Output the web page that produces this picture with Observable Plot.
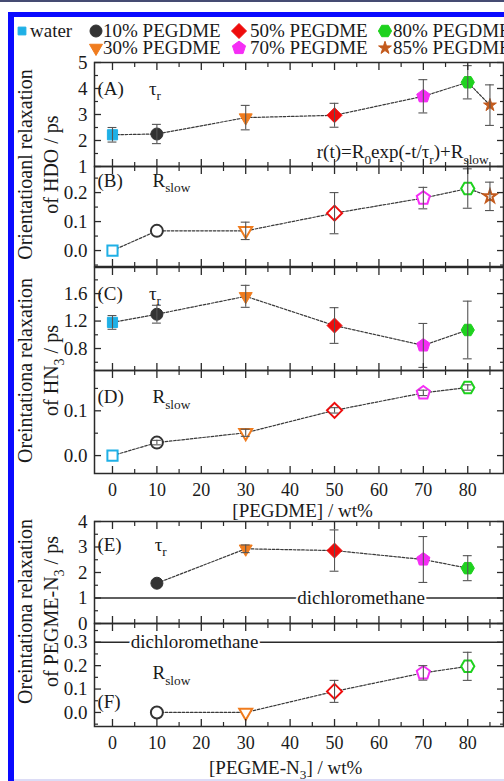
<!DOCTYPE html>
<html><head><meta charset="utf-8">
<script src="https://cdn.jsdelivr.net/npm/d3@7"></script>
<script src="https://cdn.jsdelivr.net/npm/@observablehq/plot@0.6"></script>
<style>
html,body{margin:0;padding:0;background:#fff;}
#root{position:relative;width:504px;height:781px;overflow:hidden;font-family:"Liberation Serif","DejaVu Serif",serif;color:#1a1a1a;}
.abs{position:absolute;}
.leg{position:absolute;font-size:19px;line-height:16px;height:16px;white-space:nowrap;}
</style></head><body><div id="root"></div>
<script>
// ---------------- data ----------------
const NAMES = ["water","10% PEGDME","30% PEGDME","50% PEGDME","70% PEGDME","80% PEGDME","85% PEGDME"];
const COLORS = ["#1fb0e6","#333333","#f07c1e","#ee0c0c","#f52df5","#1ed21e","#c45a1c"];
const CONC = [0,10,30,50,70,80,85];

// HDO  (A: tau_r, B: R_slow) — series 0..6
const hdoTau      = [2.22, 2.25, 2.88, 2.97, 3.70, 4.24, 3.36];
const hdoTauErr   = [0.28, 0.37, 0.47, 0.46, 0.64, 0.64, 0.78];
const hdoRslow    = [0.000, 0.068, 0.068, 0.129, 0.181, 0.214, 0.187];
const hdoRslowErr = [0, 0, 0.030, 0.071, 0.037, 0.068, 0.049];
// HN3  (C: tau_r, D: R_slow) — series 0..5
const hn3Tau      = [1.18, 1.30, 1.56, 1.135, 0.845, 1.07];
const hn3TauErr   = [0.10, 0.13, 0.16, 0.26, 0.32, 0.42];
const hn3Rslow    = [0.000, 0.029, 0.051, 0.101, 0.140, 0.152];
const hn3RslowErr = [0, 0.005, 0.008, 0.006, 0.006, 0.006];
// PEGME-N3 (E: tau_r, F: R_slow) — series 1..5
const pegTau      = [1.58, 2.93, 2.86, 2.51, 2.17];
const pegTauErr   = [0, 0.15, 0.81, 0.90, 0.49];
const pegRslow    = [0.000, 0.000, 0.090, 0.169, 0.197];
const pegRslowErr = [0, 0, 0.047, 0.031, 0.060];
// dichloromethane reference levels
const dcmTau = 1.0, dcmRslow = 0.3;

const X_TICKS = [0,10,20,30,40,50,60,70,80];
const X_MINOR = [5,15,25,35,45,55,65,75,85];

// ---------------- symbols ----------------
function poly(n, rot, k){ return {draw(c, s){ const R = Math.sqrt(s/Math.PI)*k;
  for(let i=0;i<n;i++){ const a = rot + 2*Math.PI*i/n; const x = R*Math.cos(a), y = R*Math.sin(a); if(i) c.lineTo(x,y); else c.moveTo(x,y);} c.closePath(); }}; }
const circleSym = {draw(c, s){ const r = Math.sqrt(s/Math.PI); c.moveTo(r,0); c.arc(0,0,r,0,2*Math.PI); }};
const starSym = {draw(c, s){ d3.symbolStar.draw(c, s*0.45); }};
const SYMS = [poly(4, Math.PI/4, 1.2), circleSym, poly(3, Math.PI/2, 1.25), poly(4, -Math.PI/2, 1.25),
              poly(5, -Math.PI/2, 1.15), poly(6, 0, 1.1), starSym];

// ---------------- helpers ----------------
const root = document.getElementById("root");
const INK = "#1a1a1a", FRAME = "#2a2a2a";
const XDOM = [-4.05, 88.05];
const FONT = '"Liberation Serif","DejaVu Serif",serif';

function addSpan(el, txt, dy, small){
  const sp = document.createElementNS("http://www.w3.org/2000/svg","tspan");
  if (dy) sp.setAttribute("dy", dy);
  if (small) sp.setAttribute("font-size","70%");
  sp.textContent = txt; el.appendChild(sp);
}
function subify(svg){
  svg.querySelectorAll("text").forEach(t => {
    const s = t.textContent;
    if (!s.includes("_{")) return;
    t.textContent = "";
    const re = /_\{([^}]*)\}/g; let last = 0, m, down = false;
    while ((m = re.exec(s))) {
      if (m.index > last) { addSpan(t, s.slice(last, m.index), down ? "-0.28em" : null, false); down = false; }
      addSpan(t, m[1], down ? null : "0.4em", true); down = true;
      last = re.lastIndex;
    }
    if (last < s.length) addSpan(t, s.slice(last), down ? "-0.28em" : null, false);
  });
}

function panel(cfg){
  const {top, h, yDomain, yTicks, yMinor, fmt, xs, ys, errs, idx, hollow, mb = 20, xLabels = false, extra = []} = cfg;
  const mt = 20;
  const inDom = v => v >= Math.min(...yDomain) - 1e-9 && v <= Math.max(...yDomain) + 1e-9;
  const pts = xs.map((x,i) => ({x, y: ys[i], e: errs[i], s: idx[i]}));
  const eb = pts.filter(p => p.e > 0);
  const marks = [
    Plot.lineY(pts, {x:"x", y:"y", stroke:"#3a3a3a", strokeWidth:1.2, strokeDasharray:"2.6,1.6"}),
    ...pts.map(p => Plot.dot([p], {x:"x", y:"y", r:6, symbol: SYMS[p.s],
        fill: hollow ? "white" : COLORS[p.s], stroke: COLORS[p.s], strokeWidth: hollow ? 2 : 1})),
    Plot.ruleX(eb, {x:"x", y1: p => p.y - p.e, y2: p => p.y + p.e, stroke:"#555", strokeWidth:1.1}),
    Plot.ruleY(eb, {y: p => p.y + p.e, x1: p => p.x - 1, x2: p => p.x + 1, stroke:"#555", strokeWidth:1.1}),
    Plot.ruleY(eb, {y: p => p.y - p.e, x1: p => p.x - 1, x2: p => p.x + 1, stroke:"#555", strokeWidth:1.1}),
    ...extra,
    Plot.frame({stroke: FRAME, strokeWidth: 1.5}),
    Plot.axisY(yTicks.filter(inDom), {anchor:"left", tickSize:0, tickPadding:7, tickFormat: fmt, label:null, fill: INK, fontSize: 19}),
    Plot.axisY(yTicks.filter(inDom), {anchor:"left", tickSize:-7, fill:"none", label:null, stroke: FRAME, strokeWidth:1.3}),
    Plot.axisY(yMinor.filter(inDom), {anchor:"left", tickSize:-4, fill:"none", label:null, stroke: FRAME, strokeWidth:1.2}),
    Plot.axisY(yTicks.filter(inDom), {anchor:"right", tickSize:-7, fill:"none", label:null, stroke: FRAME, strokeWidth:1.3}),
    Plot.axisY(yMinor.filter(inDom), {anchor:"right", tickSize:-4, fill:"none", label:null, stroke: FRAME, strokeWidth:1.2}),
    Plot.axisX(X_TICKS, {anchor:"bottom", tickSize:-7, fill:"none", label:null, stroke: FRAME, strokeWidth:1.3}),
    Plot.axisX(X_MINOR, {anchor:"bottom", tickSize:-4, fill:"none", label:null, stroke: FRAME, strokeWidth:1.2}),
    Plot.axisX(X_TICKS, {anchor:"top", tickSize:-7, fill:"none", label:null, stroke: FRAME, strokeWidth:1.3}),
    Plot.axisX(X_MINOR, {anchor:"top", tickSize:-4, fill:"none", label:null, stroke: FRAME, strokeWidth:1.2})
  ];
  if (xLabels) marks.push(Plot.axisX(X_TICKS, {anchor:"bottom", tickSize:0, tickPadding:10, label:null, fill: INK, fontSize: 18}));
  const svg = Plot.plot({
    width: 504, height: h + mt + mb,
    marginLeft: 94, marginRight: 1, marginTop: mt, marginBottom: mb,
    x: {domain: XDOM}, y: {domain: yDomain},
    style: {background:"transparent", overflow:"visible", fontFamily: FONT, fontSize:"18px", color: INK},
    marks
  });
  svg.style.position = "absolute"; svg.style.left = "0px"; svg.style.top = (top - mt) + "px";
  subify(svg);
  root.appendChild(svg);
  return svg;
}
const T = (x, y, text, o = {}) => Plot.text([{x, y}], {x:"x", y:"y", text: () => text, fontSize: 19, fill: INK, textAnchor:"start", lineAnchor:"middle", ...o});
const yTitle = (text, dx, dy) => Plot.text([text], {frameAnchor:"bottom-left", text: d => d, rotate:-90, dx, dy, fontSize:20, fill: INK, textAnchor:"middle", lineAnchor:"middle"});
const xTitle = (x, text, dy) => Plot.text([{x}], {x:"x", frameAnchor:"bottom", text: () => text, dy, fontSize:19, fill: INK, textAnchor:"middle", lineAnchor:"middle"});

// ---------------- frame decoration ----------------
root.insertAdjacentHTML("beforeend",
  '<div class="abs" style="left:0;top:0;width:504px;height:2px;background:#454b72"></div>' +
  '<div class="abs" style="left:8px;top:12px;width:520px;height:800px;border-left:6px solid #0a0aff;border-top:5px solid #0a0aff;box-sizing:border-box"></div>' +
  '<div class="abs" style="left:14px;top:779px;width:500px;height:2px;background:#dcdcf6"></div>');

// ---------------- legend ----------------
const LEG_SYM_X = [22, 96, 239, 385], LEG_TXT_X = [30, 103, 250, 393], LEG_ROW_Y = [31, 48];
NAMES.forEach((name, i) => {
  const col = Math.ceil(i/2), row = i === 0 ? 0 : (i-1) % 2;
  const cx = LEG_SYM_X[col], cy = LEG_ROW_Y[row];
  const rr = i === 0 ? 4.6 : 6;
  const path = d3.symbol(SYMS[i], rr*rr*Math.PI)();
  root.insertAdjacentHTML("beforeend",
    `<svg class="abs" width="20" height="20" style="left:${cx-10}px;top:${cy-10}px;overflow:visible"><path transform="translate(10,10)" d="${path}" fill="${COLORS[i]}" stroke="${COLORS[i]}"/></svg>` +
    `<div class="leg" style="left:${LEG_TXT_X[col]}px;top:${cy-8}px">${name}</div>`);
});

// ---------------- panels ----------------
const fmt1 = d3.format(".1f"), fmtInt = d3.format("d");
// A
panel({top:62, h:104, yDomain:[1,5], yTicks:[1,2,3,4,5], yMinor:[1.5,2.5,3.5,4.5], fmt: fmtInt,
  xs: CONC, ys: hdoTau, errs: hdoTauErr, idx:[0,1,2,3,4,5,6], hollow:false,
  extra:[ T(-3.4, 4.0, "(A)"), T(8.2, 4.0, "τ_{r}"),
          T(84.7, 1.55, "r(t)=R_{0}exp(-t/τ_{r})+R_{slow}", {textAnchor:"end"}),
          yTitle("Orientatioanl relaxation", -69, -2), yTitle("of HDO / ps", -43, -2) ]});
// B
panel({top:166, h:100, yDomain:[-0.055,0.29], yTicks:[0,0.1,0.2], yMinor:[-0.05,0.05,0.15,0.25], fmt: fmt1,
  xs: CONC, ys: hdoRslow, errs: hdoRslowErr, idx:[0,1,2,3,4,5,6], hollow:true,
  extra:[ T(-3.4, 0.241, "(B)"), T(9.0, 0.241, "R_{slow}") ]});
// C
panel({top:267, h:103, yDomain:[0.48,1.98], yTicks:[0.8,1.2,1.6], yMinor:[0.6,1.0,1.4,1.8], fmt: fmt1,
  xs: CONC.slice(0,6), ys: hn3Tau, errs: hn3TauErr, idx:[0,1,2,3,4,5], hollow:false,
  extra:[ T(-3.4, 1.6, "(C)"), T(8.2, 1.6, "τ_{r}"),
          yTitle("Oreintationa relaxation", -69, 0), yTitle("of HN_{3} / ps", -43, 0) ]});
// D
panel({top:370, h:103, yDomain:[-0.04,0.19], yTicks:[0,0.1], yMinor:[0.05,0.15], fmt: fmt1, mb:60, xLabels:true,
  xs: CONC.slice(0,6), ys: hn3Rslow, errs: hn3RslowErr, idx:[0,1,2,3,4,5], hollow:true,
  extra:[ T(-3.4, 0.13, "(D)"), T(9.0, 0.13, "R_{slow}"), xTitle(42.8, "[PEGDME] / wt%", 37) ]});
// E
panel({top:521, h:102, yDomain:[0,4], yTicks:[0,1,2,3,4], yMinor:[0.5,1.5,2.5,3.5], fmt: fmtInt,
  xs: CONC.slice(1,6), ys: pegTau, errs: pegTauErr, idx:[1,2,3,4,5], hollow:false,
  extra:[ Plot.ruleY([dcmTau], {stroke: FRAME, strokeWidth:1.5}),
          T(56, dcmTau, "dichloromethane", {textAnchor:"middle", stroke:"white", strokeWidth:4}),
          T(-3.4, 3.1, "(E)"), T(9.5, 3.1, "τ_{r}"),
          yTitle("Oreintationa relaxation", -69, -12), yTitle("of PEGME-N_{3} / ps", -43, -12) ]});
// F
panel({top:623, h:103, yDomain:[-0.06,0.38], yTicks:[0,0.1,0.2,0.3], yMinor:[-0.05,0.05,0.15,0.25,0.35], fmt: fmt1, mb:60, xLabels:true,
  xs: CONC.slice(1,6), ys: pegRslow, errs: pegRslowErr, idx:[1,2,3,4,5], hollow:true,
  extra:[ Plot.ruleY([dcmRslow], {stroke: FRAME, strokeWidth:1.5}),
          T(18.5, dcmRslow, "dichloromethane", {textAnchor:"middle", stroke:"white", strokeWidth:4}),
          T(9.0, 0.167, "R_{slow}"), T(-3.4, 0.043, "(F)"),
          xTitle(39, "[PEGME-N_{3}] / wt%", 41) ]});
</script></body></html>
